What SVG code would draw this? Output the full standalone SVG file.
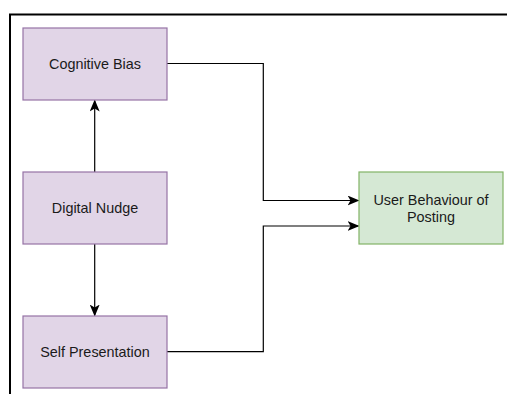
<svg xmlns="http://www.w3.org/2000/svg" width="507" height="394" viewBox="0 0 507 394">
<defs>
<style>
.p{fill:#e1d5e7;stroke:#9673a6;stroke-width:1.2}
.g{fill:#d5e8d4;stroke:#82b366;stroke-width:1.2}
.t{font-family:"Liberation Sans",Arial,sans-serif;font-size:14.4px;fill:#1a1a1a;text-anchor:middle}
.c{fill:none;stroke:#000;stroke-width:1.2}
</style>
<marker id="a" viewBox="0 0 12 10" refX="11" refY="5" markerWidth="12" markerHeight="10" markerUnits="userSpaceOnUse" orient="auto">
<path d="M0,0 L12,5 L0,10 L3,5 Z" fill="#000"/>
</marker>
</defs>
<rect width="507" height="394" fill="#fff"/>
<path d="M10,394 V14.5 H507" fill="none" stroke="#000" stroke-width="2"/>
<g id="connectors">
<path class="c" d="M94.7,172 V100.5" marker-end="url(#a)"/>
<path class="c" d="M94.7,244 V315.5" marker-end="url(#a)"/>
<path class="c" d="M167,63.5 H263.3 V200.5 H358.5" marker-end="url(#a)"/>
<path class="c" d="M167,351.7 H263.3 V226 H358.5" marker-end="url(#a)"/>
</g>
<g id="cognitive-bias">
<rect class="p" x="23" y="28" width="144" height="72"/>
<text class="t" x="95" y="68.5">Cognitive Bias</text>
</g>
<g id="digital-nudge">
<rect class="p" x="23" y="172" width="144" height="72"/>
<text class="t" x="95" y="213">Digital Nudge</text>
</g>
<g id="self-presentation">
<rect class="p" x="23" y="316" width="144" height="72"/>
<text class="t" x="95" y="357">Self Presentation</text>
</g>
<g id="user-behaviour">
<rect class="g" x="359" y="172" width="144" height="72"/>
<text class="t" x="431" y="204.5">User Behaviour of</text>
<text class="t" x="431" y="222">Posting</text>
</g>
</svg>
